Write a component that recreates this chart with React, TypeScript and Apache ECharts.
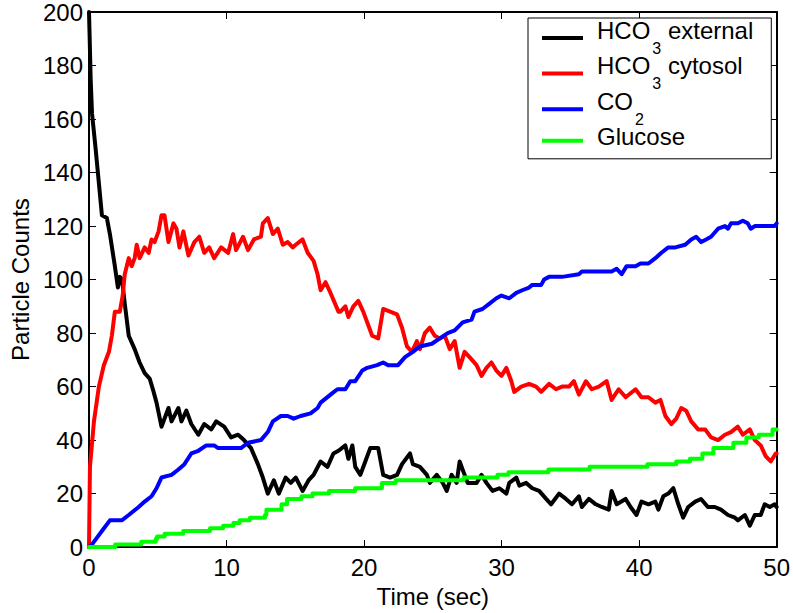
import React, { useEffect, useRef } from "react";
import * as echarts from "echarts";

const FONT = '"Liberation Sans", Arial, Helvetica, sans-serif';

const seriesNames = ["HCO3 external", "HCO3 cytosol", "CO2", "Glucose"];
const seriesColors = ["#000000", "#ff0000", "#0000ff", "#00ff00"];
const xTicks = { min: 0, max: 50, interval: 10 };
const yTicks = { min: 0, max: 200, interval: 20 };

// [time (sec), count]
const hco3External: [number, number][] = [
  [0, 200], [0.05, 190], [0.12, 175], [0.22, 162], [0.46, 150], [0.7, 137], [0.94, 124], [1.3, 123],
  [1.52, 117], [1.88, 105], [2.1, 97], [2.24, 101], [2.4, 100], [2.6, 91], [2.89, 79], [3.32, 74],
  [3.68, 69], [4.05, 65], [4.41, 63], [4.7, 58], [4.91, 54], [5.27, 45], [5.78, 52], [6.0, 47],
  [6.5, 52], [6.72, 47], [7.08, 51], [7.44, 46], [7.95, 42], [8.38, 46], [8.89, 44], [9.25, 47],
  [9.83, 45], [10.33, 41], [10.84, 42], [11.27, 40], [11.78, 37], [12.28, 31], [12.64, 26], [13.0, 20],
  [13.44, 25], [13.8, 20], [14.3, 26], [14.67, 24], [15.03, 26], [15.53, 21], [15.97, 25], [16.33, 27],
  [16.84, 32], [17.34, 30], [17.77, 35], [18.14, 36], [18.64, 38], [18.86, 33], [19.15, 38], [19.36, 30],
  [19.73, 27], [20.09, 32], [20.45, 37], [21.03, 37], [21.39, 27], [21.89, 26], [22.4, 27], [22.76, 31],
  [23.34, 35], [23.55, 31], [24.06, 30], [24.57, 27], [24.78, 24], [25.29, 27], [25.72, 24], [26.01, 21],
  [26.37, 27], [26.73, 24], [26.95, 32], [27.31, 27], [27.53, 24], [28.18, 24], [28.54, 27], [28.9, 24],
  [29.34, 21], [29.84, 22], [30.35, 20], [30.56, 24], [31.07, 26], [31.29, 23], [31.79, 24], [32.23, 22],
  [32.73, 21], [33.24, 18], [33.6, 16], [34.18, 20], [34.68, 18], [35.12, 16], [35.62, 19], [35.84, 15],
  [36.34, 18], [36.85, 16], [37.28, 15], [37.79, 14], [38.0, 21], [38.37, 16], [39.02, 18], [39.38, 15],
  [39.81, 12], [40.17, 17], [40.68, 16], [41.18, 17], [41.4, 14], [41.76, 19], [42.12, 20], [42.49, 22],
  [42.85, 16], [43.2, 11], [43.57, 15], [44.08, 17], [44.5, 18], [45.0, 15], [45.5, 15], [45.95, 14],
  [46.46, 12], [46.97, 11], [47.18, 10], [47.69, 12], [48.05, 8], [48.41, 12], [48.84, 12], [49.13, 16],
  [49.5, 15], [49.86, 16], [50, 15],
];

const hco3Cytosol: [number, number][] = [
  [0, 0], [0.07, 30], [0.36, 47], [0.72, 60], [1.08, 68], [1.45, 73], [1.66, 79], [1.88, 88],
  [2.24, 88], [2.45, 94], [2.6, 102], [2.89, 108], [3.1, 105], [3.32, 108], [3.47, 113], [3.68, 108],
  [4.05, 112], [4.34, 110], [4.55, 115], [4.77, 114], [5.06, 118], [5.27, 124], [5.49, 124], [5.78, 114],
  [6.14, 121], [6.36, 119], [6.58, 112], [6.86, 118], [7.23, 109], [7.66, 114], [8.02, 116], [8.38, 110],
  [8.74, 112], [9.1, 108], [9.61, 112], [10.12, 110], [10.48, 117], [10.69, 111], [11.2, 116], [11.56, 111],
  [11.99, 115], [12.5, 116], [12.64, 121], [13.0, 123], [13.37, 117], [13.73, 119], [14.09, 113], [14.45, 114],
  [14.81, 112], [15.03, 113], [15.53, 115], [15.9, 110], [16.33, 107], [16.62, 102], [16.84, 96], [17.2, 99],
  [17.56, 95], [18.14, 88], [18.28, 88], [18.64, 90], [18.86, 86], [19.22, 90], [19.58, 92], [19.94, 88],
  [20.59, 79], [21.03, 78], [21.39, 89], [21.89, 88], [22.4, 87], [22.76, 82], [23.12, 75], [23.48, 73],
  [23.84, 77], [24.06, 74], [24.42, 80], [24.78, 82], [25.14, 79], [25.51, 78], [25.87, 79], [26.23, 74],
  [26.59, 77], [26.95, 67], [27.31, 73], [27.67, 71], [28.18, 68], [28.54, 64], [28.9, 67], [29.26, 69],
  [29.62, 66], [29.99, 64], [30.35, 67], [30.71, 62], [30.92, 58], [31.43, 60], [32.0, 61], [32.51, 60],
  [32.88, 58], [33.45, 61], [33.96, 59], [34.39, 60], [34.9, 60], [35.26, 62], [35.62, 57], [36.13, 62],
  [36.56, 59], [37.07, 60], [37.64, 62], [38.0, 55], [38.51, 59], [39.02, 56], [39.74, 59], [40.17, 56],
  [40.68, 56], [41.18, 54], [41.55, 55], [41.91, 49], [42.34, 46], [42.7, 48], [43.06, 52], [43.42, 51],
  [43.79, 47], [44.29, 44], [44.8, 44], [45.23, 41], [45.74, 40], [46.24, 42], [46.68, 43], [47.18, 45],
  [47.54, 42], [48.05, 44], [48.41, 40], [48.84, 38], [49.2, 34], [49.57, 32], [49.93, 35], [50, 35],
];

const co2: [number, number][] = [
  [0, 0], [0.22, 1], [0.65, 4], [0.94, 6], [1.52, 10], [2.38, 10], [2.89, 12], [3.61, 15],
  [4.05, 17], [4.55, 19], [4.91, 22], [5.27, 26], [6.0, 27], [6.5, 29], [6.94, 31], [7.44, 35],
  [7.95, 36], [8.53, 38], [9.1, 38], [9.39, 37], [10.33, 37], [11.05, 37], [11.56, 39], [12.5, 40],
  [13.0, 43], [13.37, 47], [13.95, 49], [14.45, 49], [14.88, 48], [15.39, 49], [16.11, 50], [16.62, 52],
  [16.84, 54], [17.56, 57], [18.06, 59], [18.64, 59], [19.0, 62], [19.36, 62], [19.87, 66], [20.23, 67],
  [20.95, 68], [21.39, 69], [21.75, 68], [22.47, 68], [22.98, 71], [23.55, 73], [24.06, 75], [24.93, 76],
  [25.51, 78], [26.08, 80], [26.59, 81], [27.17, 84], [27.82, 85], [28.03, 88], [28.61, 89], [29.12, 91],
  [29.62, 93], [29.99, 94], [30.56, 93], [31.07, 95], [31.5, 96], [32.0, 97], [32.23, 98], [32.88, 98],
  [33.09, 100], [33.45, 101], [34.39, 101], [35.62, 102], [35.84, 103], [38.0, 103], [38.37, 104], [38.73, 102],
  [39.09, 105], [39.74, 105], [40.1, 106], [40.68, 106], [41.18, 108], [41.62, 110], [42.12, 112], [42.63, 112],
  [43.35, 113], [43.79, 115], [44.15, 116], [44.51, 114], [44.87, 115], [45.23, 116], [45.74, 119], [46.24, 120],
  [46.46, 119], [46.68, 121], [47.18, 121], [47.54, 122], [47.9, 121], [48.12, 119], [48.41, 120], [49.86, 120],
  [50, 121],
];

// step changes: [time at which the count becomes, count]
const glucose: [number, number][] = [
  [0, 0], [1.9, 1], [3.8, 2], [4.85, 3], [4.95, 4], [5.5, 5], [6.85, 6], [8.8, 7],
  [9.75, 8], [10.5, 9], [10.95, 10], [11.7, 11], [12.8, 12], [12.9, 14], [14.0, 16], [14.4, 18],
  [15.45, 19], [16.25, 20], [17.45, 21], [19.35, 22], [21.3, 24], [22.3, 25], [27.25, 26], [29.7, 27],
  [30.5, 28], [33.4, 29], [36.4, 30], [40.6, 31], [42.7, 32], [43.7, 33], [44.6, 35], [45.4, 37],
  [46.85, 39], [47.8, 41], [48.7, 42], [49.7, 44], [50, 44],
];

const legendLabels: Record<string, string> = {
  "HCO3 external": "{f|HCO}{s|3}{n| external}",
  "HCO3 cytosol": "{f|HCO}{s|3}{n| cytosol}",
  CO2: "{f|CO}{s|2}",
  Glucose: "{g|Glucose}{s| }",
};

export default function App() {
  const ref = useRef<HTMLDivElement>(null);

  useEffect(() => {
    document.body.style.margin = "0";
    if (!ref.current) return;
    const chart = echarts.init(ref.current, null, { renderer: "svg" });

    const axisLine = { show: true, onZero: false, lineStyle: { color: "#000", width: 2 } };
    const axisTick = { show: true, inside: true, length: 7, lineStyle: { color: "#000", width: 1 } };
    const labelStyle = { color: "#000", fontSize: 24, fontFamily: FONT };

    const datasets = [hco3External, hco3Cytosol, co2, glucose];

    chart.setOption({
      animation: false,
      backgroundColor: "#fff",
      grid: { left: 87, right: 14, top: 10, bottom: 62, containLabel: false },
      legend: {
        orient: "vertical",
        left: 528,
        top: 18,
        data: seriesNames,
        selectedMode: false,
        icon: "rect",
        itemWidth: 41,
        itemHeight: 4,
        itemGap: -2.4,
        padding: [0, 18, 0, 14],
        backgroundColor: "#fff",
        borderColor: "#000",
        borderWidth: 1,
        borderRadius: 0,
        formatter: (name: string) => legendLabels[name] || name,
        textStyle: {
          color: "#000",
          fontFamily: FONT,
          fontSize: 24,
          rich: {
            f: { fontSize: 24, fontFamily: FONT, color: "#000", verticalAlign: "top", padding: [0, 0, 0, 9] },
            n: { fontSize: 24, fontFamily: FONT, color: "#000", verticalAlign: "top" },
            s: { fontSize: 16, fontFamily: FONT, color: "#000", verticalAlign: "bottom", padding: [22, 0, 2, 2] },
            g: { fontSize: 24, fontFamily: FONT, color: "#000", verticalAlign: "top", padding: [4, 0, 0, 9] },
          },
        },
      },
      xAxis: [
        {
          type: "value",
          position: "bottom",
          min: xTicks.min,
          max: xTicks.max,
          interval: xTicks.interval,
          name: "Time (sec)",
          nameLocation: "middle",
          nameGap: 30,
          nameTextStyle: labelStyle,
          axisLine,
          axisTick,
          axisLabel: { ...labelStyle, margin: 8 },
          splitLine: { show: false },
        },
        {
          type: "value",
          position: "top",
          min: xTicks.min,
          max: xTicks.max,
          interval: xTicks.interval,
          axisLine,
          axisTick,
          axisLabel: { show: false },
          splitLine: { show: false },
        },
      ],
      yAxis: [
        {
          type: "value",
          position: "left",
          min: yTicks.min,
          max: yTicks.max,
          interval: yTicks.interval,
          name: "Particle Counts",
          nameLocation: "middle",
          nameGap: 57,
          nameTextStyle: labelStyle,
          axisLine,
          axisTick,
          axisLabel: { ...labelStyle, margin: 6 },
          splitLine: { show: false },
        },
        {
          type: "value",
          position: "right",
          min: yTicks.min,
          max: yTicks.max,
          interval: yTicks.interval,
          axisLine,
          axisTick,
          axisLabel: { show: false },
          splitLine: { show: false },
        },
      ],
      series: seriesNames.map((name, i) => ({
        name,
        type: "line",
        xAxisIndex: 0,
        yAxisIndex: 0,
        data: datasets[i],
        step: name === "Glucose" ? "end" : undefined,
        showSymbol: false,
        symbol: "none",
        smooth: false,
        lineStyle: { color: seriesColors[i], width: 4, join: "round", cap: "round" },
        itemStyle: { color: seriesColors[i] },
        emphasis: { disabled: true },
      })),
    });

    return () => chart.dispose();
  }, []);

  return <div ref={ref} style={{ width: 793, height: 613 }} />;
}
